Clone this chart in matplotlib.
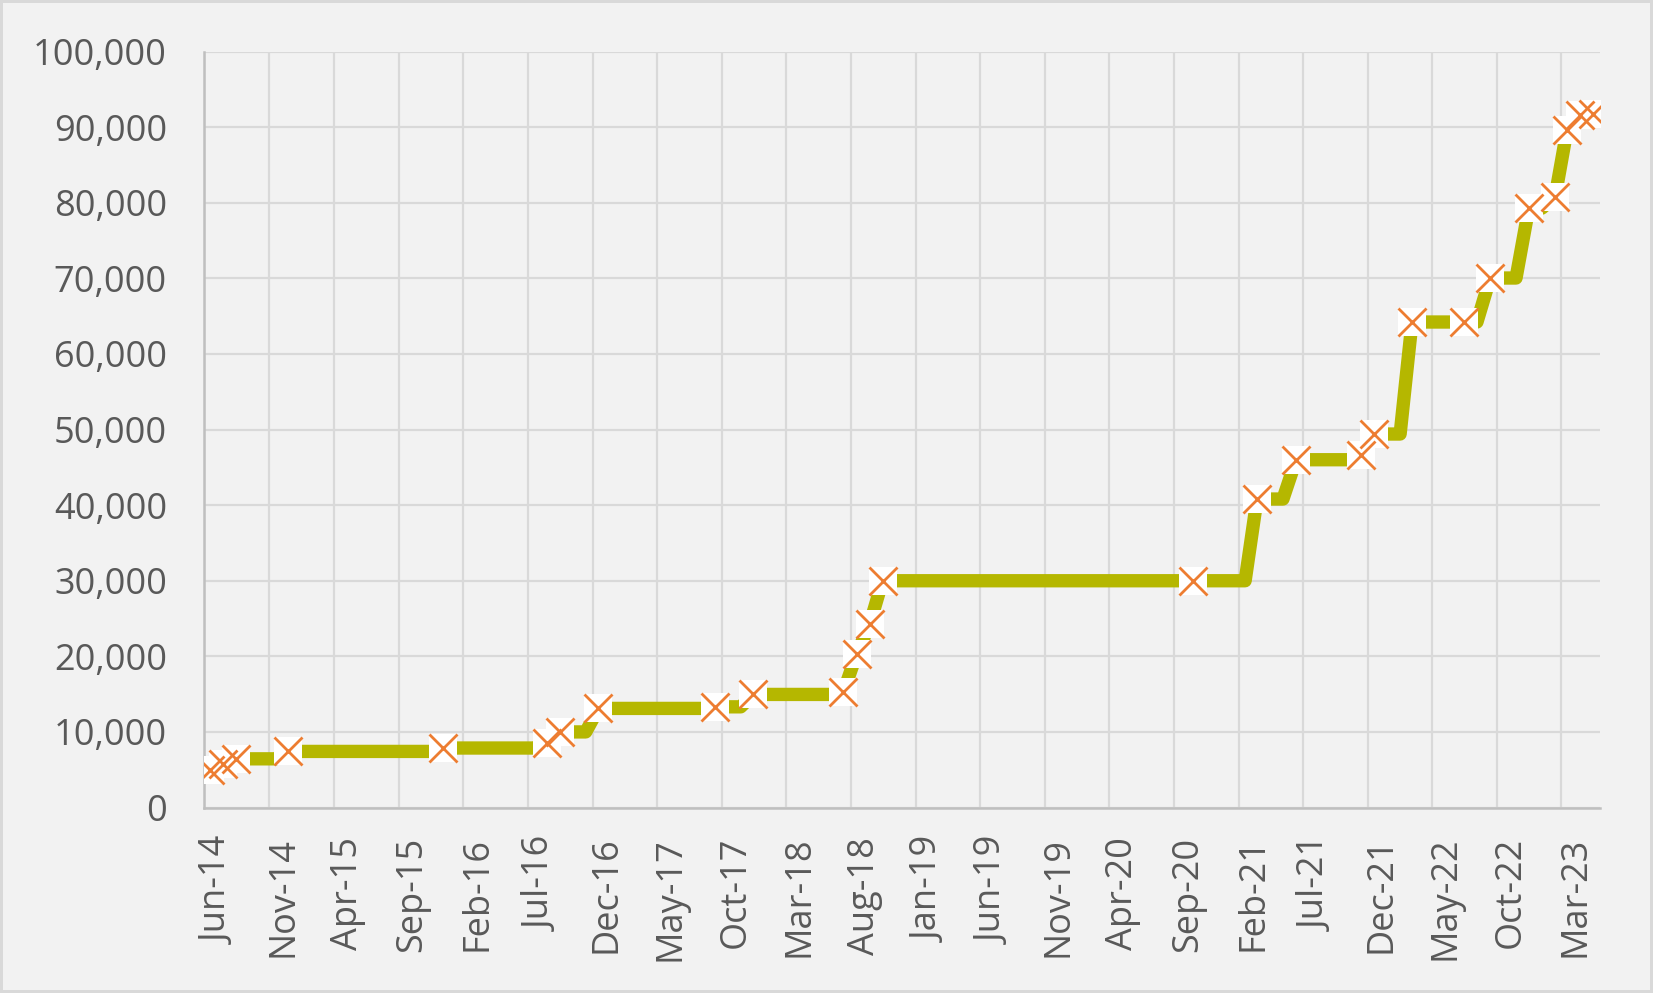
import pandas as pd
import matplotlib
matplotlib.use("Agg")
import matplotlib.pyplot as plt
import matplotlib.dates as mdates
from matplotlib.transforms import ScaledTranslation

# --- data ---
# markers (one per reported month, plotted mid-month)
marker_months = ["2014-06", "2014-07", "2014-08", "2014-12", "2015-12", "2016-08",
                 "2016-09", "2016-12", "2017-09", "2017-12", "2018-07", "2018-08",
                 "2018-09", "2018-10", "2020-10", "2021-03", "2021-06", "2021-11",
                 "2021-12", "2022-03", "2022-07", "2022-09", "2022-12", "2023-02",
                 "2023-03", "2023-04", "2023-05"]
marker_values = [4980, 5690, 6440, 7420, 7870, 8530,
                 10000, 13110, 13320, 14960, 15310, 20310,
                 24290, 30000, 30000, 40810, 46010, 46590,
                 49410, 64230, 64230, 70050, 79300, 80790,
                 89600, 91640, 91800]

# the thick line: monthly level, listed at the months where it changes
line_months = ["2014-06", "2014-07", "2014-08", "2014-11", "2014-12", "2015-11",
               "2015-12", "2016-07", "2016-08", "2016-09", "2016-11", "2016-12",
               "2017-08", "2017-09", "2017-11", "2017-12", "2018-06", "2018-07",
               "2018-08", "2018-09", "2018-10", "2021-02", "2021-03", "2021-05",
               "2021-06", "2021-10", "2021-11", "2021-12", "2022-02", "2022-03",
               "2022-08", "2022-09", "2022-11", "2022-12", "2023-01", "2023-02",
               "2023-03", "2023-04", "2023-05"]
line_values = [4980, 5690, 6440, 6440, 7420, 7420,
               7870, 7870, 8530, 10000, 10000, 13110,
               13110, 13320, 13320, 14960, 14960, 15310,
               20310, 24290, 30000, 30000, 40810, 40810,
               46010, 46010, 46590, 49410, 49410, 64230,
               64230, 70050, 70050, 79300, 79300, 80790,
               89600, 91640, 91800]

x_start = "2014-06-01"
x_end = "2023-06-01"
last_tick = "2023-03-01"
tick_step_months = 5
y_ticks = list(range(0, 100001, 10000))

# --- figure ---
bg = "#F2F2F2"
text_col = "#595959"
grid_col = "#D9D9D9"

plt.rcParams["font.family"] = ["Open Sans", "DejaVu Sans"]

fig = plt.figure(figsize=(16.53, 9.93), dpi=100)
fig.patch.set_facecolor(bg)
fig.patch.set_edgecolor(grid_col)
fig.patch.set_linewidth(4)
ax = fig.add_axes([0.1237, 0.1868, 0.968 - 0.1237, 0.948 - 0.1868])
ax.set_facecolor(bg)

mid = pd.Timedelta(days=14)
line_x = pd.to_datetime(line_months) + mid
mark_x = pd.to_datetime(marker_months) + mid

ax.plot(line_x, line_values, color="#B5B700", linewidth=9.6,
        solid_joinstyle="round", solid_capstyle="butt", zorder=3)
ax.plot(mark_x, marker_values, linestyle="none", marker="s", markersize=20,
        markerfacecolor="white", markeredgewidth=0, zorder=4)
ax.plot(mark_x, marker_values, linestyle="none", marker="x", markersize=20,
        markeredgecolor="#ED7D31", markeredgewidth=2.0, zorder=5)

# axes
ax.set_xlim(pd.Timestamp(x_start), pd.Timestamp(x_end))
ax.set_ylim(0, 100000)
ticks = pd.date_range(x_start, last_tick, freq=f"{tick_step_months}MS")
ax.set_xticks(ticks)
ax.set_xticklabels([t.strftime("%b-%y") for t in ticks], rotation=90)
ax.set_yticks(y_ticks)
ax.set_yticklabels([f"{v:,}" for v in y_ticks])

ax.tick_params(axis="both", length=0, labelsize=26, labelcolor=text_col)
ax.tick_params(axis="y", pad=27)
ax.tick_params(axis="x", pad=21)

# nudge the rotated date labels so they sit centred on their ticks
shift = ScaledTranslation(14 / 100, 0, fig.dpi_scale_trans)
for lbl in ax.get_xticklabels():
    lbl.set_transform(lbl.get_transform() + shift)

ax.grid(True, color=grid_col, linewidth=1.6, zorder=0)
ax.set_axisbelow(True)
for side in ["top", "right"]:
    ax.spines[side].set_visible(False)
for side in ["left", "bottom"]:
    ax.spines[side].set_color("#BFBFBF")
    ax.spines[side].set_linewidth(1.8)

fig.savefig("out.png", dpi=100, facecolor=bg, edgecolor=grid_col)
